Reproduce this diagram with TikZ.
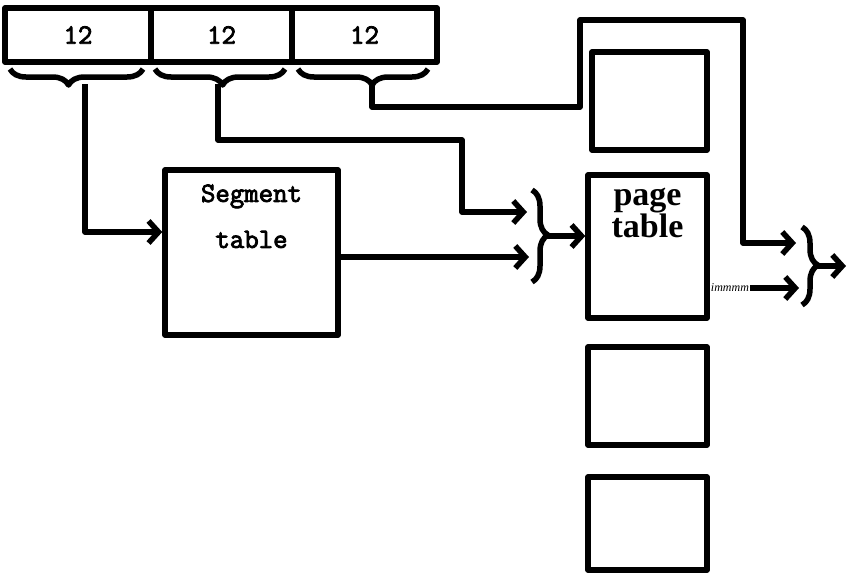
\documentclass[tikz,border=0pt]{standalone}
\usepackage{fontspec}
\newfontfamily\ptfont{Liberation Serif}
\newfontfamily\typefont[FakeBold=3]{Latin Modern Mono}
\usetikzlibrary{arrows.meta,decorations.pathreplacing}

\tikzset{
  wire/.style={line width=5.5pt,line join=round},
  link/.style={wire,-{Straight Barb[length=10pt,width=22pt,line width=5.5pt]}},
  brc/.style={wire,decorate,decoration={brace,amplitude=16pt,aspect=#1}},
  field/.style={wire,draw,minimum height=54pt,inner sep=0pt,
    font=\fontsize{28}{28}\selectfont\typefont},
  tablebox/.style={wire,draw,inner sep=0pt},
  ttlbl/.style={font=\fontsize{28}{46}\selectfont\typefont,align=center,inner sep=0pt},
  ptlbl/.style={font=\fontsize{34}{30}\selectfont\ptfont\bfseries,align=center,inner sep=0pt},
}

\begin{document}
\begin{tikzpicture}[x=1pt,y=-1pt]
  \useasboundingbox (0,0) rectangle (847,579);

  % virtual address
  \node[field,minimum width=146pt] (f1) at (78,35) {12};
  \node[field,minimum width=141pt] (f2) at (221.5,35) {12};
  \node[field,minimum width=145pt] (f3) at (364.5,35) {12};

  \draw[brc=0.56] (143,69) -- (10,69);
  \draw[brc=0.48] (285,69) -- (155,69);
  \draw[brc=0.43] (428,69) -- (298,69);
  \coordinate (b1) at (85,84);
  \coordinate (b2) at (218,84);
  \coordinate (b3) at (372,84);

  % tables
  \node[tablebox,minimum width=173pt,minimum height=165pt] (seg) at (251.5,252.5) {};
  \node[ttlbl,anchor=north] (seglbl) at ([yshift=-17pt]seg.north) {Segment\\table};

  \node[tablebox,minimum width=115pt,minimum height=98pt] (pg1) at (649.5,101) {};
  \node[tablebox,minimum width=119pt,minimum height=143pt] (pt) at (647.5,246.5) {};
  \node[ptlbl,anchor=north] (ptlbl) at ([yshift=-16pt]pt.north) {page\\table};
  \node[tablebox,minimum width=119pt,minimum height=98pt] (pg3) at (647.5,396) {};
  \node[tablebox,minimum width=119pt,minimum height=93pt] (pg4) at (647.5,523.5) {};

  % adders
  \draw[brc=0.49] (532,190) -- (532,282);
  \coordinate (t1) at (547,236);
  \draw[brc=0.49] (802,227) -- (802,305);
  \coordinate (t2) at (817,266);

  \coordinate (in1) at (527,212);
  \coordinate (in2) at (529,257);
  \coordinate (in3) at (796,243);
  \coordinate (in4) at (799,288);
  \coordinate (out) at (846,266);

  \draw[link] (b1) |- (seg.west |- 0,232);
  \draw[link] (b2) |- (462,140) |- (in1);
  \draw[link] (seg.east |- in2) -- (in2);
  \draw[link] (t1) -- (pt.west |- t1);
  \draw[link] (b3) |- (580,107) |- (743,20) |- (in3);
  \node[font=\fontsize{12}{12}\selectfont\ptfont\itshape,inner sep=1pt,anchor=west] (imm) at (pt.east |- 0,288) {immmm};
  \draw[link] (imm.east) -- (in4);
  \draw[link] (t2) -- (out);
\end{tikzpicture}
\end{document}
